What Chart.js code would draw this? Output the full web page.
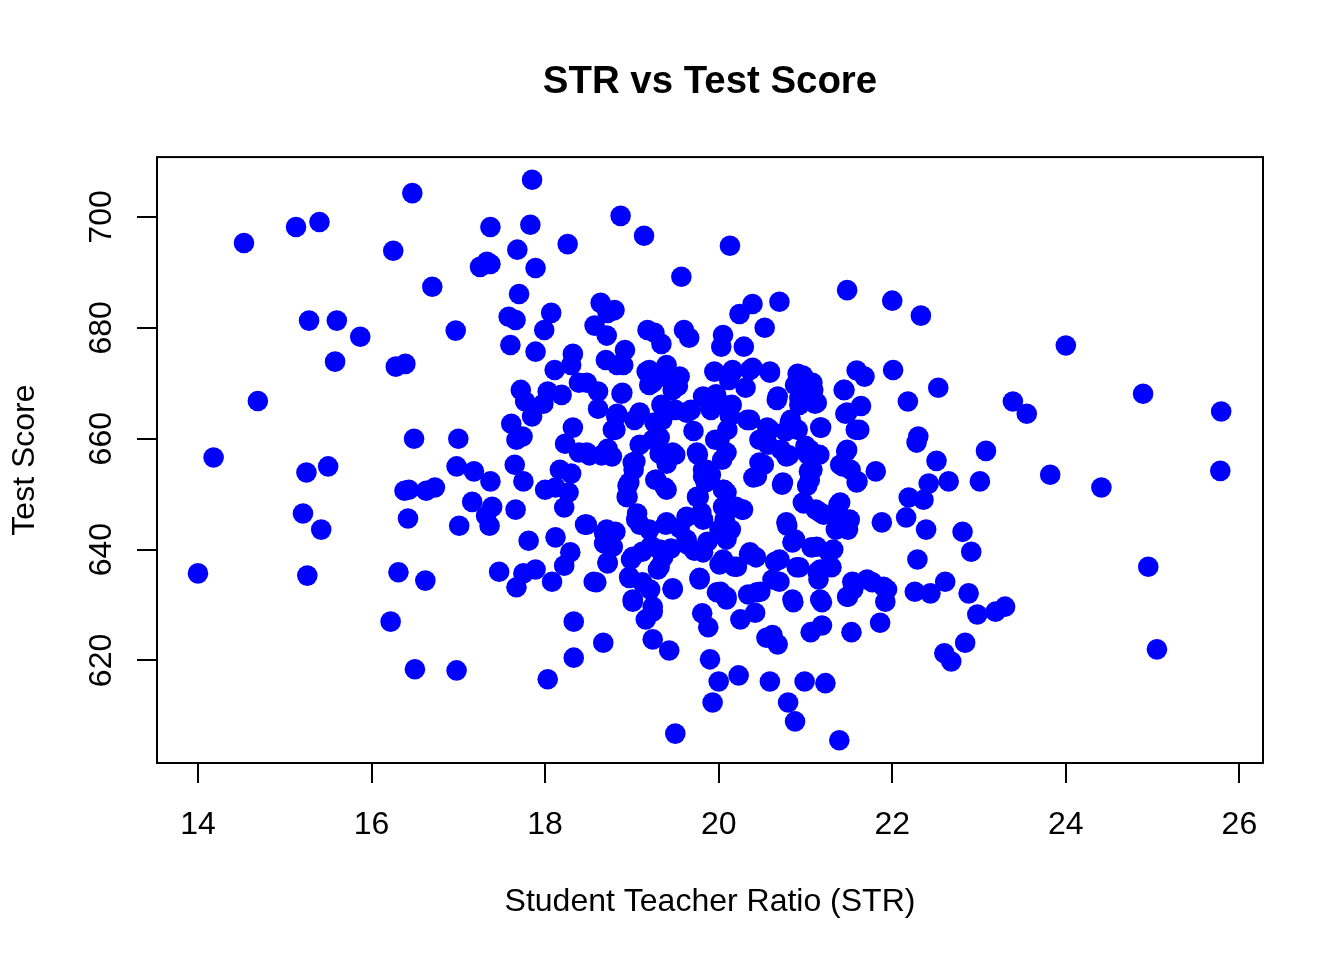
<!DOCTYPE html>
<html>
<head>
<meta charset="utf-8">
<script src="https://cdn.jsdelivr.net/npm/chart.js@4"></script>
<style>
html, body { margin: 0; padding: 0; background: #fff; }
#wrap { width: 1344px; height: 960px; position: relative; }
</style>
</head>
<body>
<div id="wrap"><canvas id="c"></canvas></div>
<script>
// Student teacher ratio (x) and test score (y)
const strX = [
14.0,14.18,14.53,14.69,15.13,15.40,15.21,15.25,15.26,15.28,15.42,15.50,15.60,15.58,15.87,16.25,16.22,16.28,16.39,16.31,
16.38,16.42,16.43,16.47,16.49,16.50,16.62,16.63,16.70,16.73,16.97,16.98,17.00,16.98,17.01,17.16,17.18,17.25,17.33,17.37,
17.37,17.32,17.36,17.37,17.39,17.47,17.58,17.60,17.61,17.65,17.66,17.66,17.68,17.67,17.67,17.70,17.72,17.74,17.77,17.75,
17.75,17.81,17.83,17.85,17.89,17.89,17.89,17.85,17.99,18.00,18.03,17.98,18.03,18.07,18.08,18.11,18.12,18.12,18.17,18.19,
18.22,18.23,18.22,18.26,18.27,18.29,18.30,18.30,18.32,18.32,18.33,18.33,18.39,18.39,18.46,18.51,18.56,18.57,18.61,18.61,
18.64,18.65,18.67,18.68,18.68,18.70,18.71,18.72,18.72,18.72,18.74,18.77,18.80,18.81,18.81,18.83,18.83,18.87,18.88,18.92,
18.90,18.95,18.95,18.97,18.99,19.01,19.02,19.04,19.03,19.06,19.09,19.09,19.12,19.14,19.16,19.17,19.18,19.20,19.21,19.22,
19.24,19.24,19.26,19.26,19.27,19.30,19.32,19.32,19.34,19.34,19.36,19.37,19.38,19.39,19.40,19.41,19.43,19.45,19.47,19.50,
19.50,19.50,19.53,19.55,19.57,19.60,19.64,19.66,19.68,19.71,19.72,19.76,19.77,19.78,19.80,19.81,19.82,19.85,19.87,19.88,
19.88,19.90,19.91,19.91,19.93,19.95,19.96,19.97,20.00,20.01,20.02,20.03,20.04,20.05,20.05,20.06,20.07,20.09,20.10,20.12,
20.13,20.14,20.15,20.16,20.18,20.20,20.23,20.24,20.25,20.27,20.29,20.31,20.33,20.34,20.35,20.36,20.39,20.40,20.42,20.43,
20.47,20.48,20.52,20.53,20.55,20.56,20.57,20.59,20.59,20.62,20.65,20.67,20.68,20.70,20.70,20.72,20.73,20.77,20.79,20.80,
20.81,20.83,20.86,20.88,20.88,20.88,20.91,20.91,20.93,20.93,20.97,20.98,20.99,21.00,21.02,21.03,21.04,21.06,21.07,21.09,
21.11,21.12,21.14,21.15,21.16,21.18,21.19,21.19,21.21,21.23,21.27,21.30,21.35,21.38,21.39,21.40,21.42,21.44,21.46,21.47,
21.48,21.49,21.49,21.51,21.52,21.53,21.54,21.55,21.58,21.59,21.60,21.62,21.64,21.68,21.77,21.81,21.86,21.88,21.90,21.92,
21.94,22.00,22.01,22.16,22.18,22.19,22.26,22.28,22.29,22.30,22.33,22.36,22.39,22.42,22.44,22.51,22.53,22.60,22.61,22.65,
22.68,22.81,22.84,22.88,22.91,22.98,23.01,23.08,23.19,23.30,23.39,23.55,23.82,24.00,24.41,24.89,24.95,25.05,25.79,25.78,
19.20,19.40,19.55,18.48,18.89,19.24,19.47,19.82,20.01,18.82,19.09,19.35,19.63,18.78,19.24,19.47,19.75,20.01,18.48,19.01,
19.86,20.16,20.39,20.59,21.08,20.68,20.93,21.13,21.45,21.48,21.17,20.82,20.59,20.36,20.13,20.09,20.47,20.78,21.05,21.08,
21.48,21.43,18.97,19.28,19.40,19.82,19.75,20.05,18.94,18.48,18.71,19.05,19.20,19.40,19.63,19.82,20.01,18.78,19.01,19.32,
19.63,19.82,20.05,18.72,18.97,19.32,19.12,18.59,19.47,19.78,19.98,19.01,19.24,20.44,20.74,21.05,21.59,20.09,20.28,20.97,
21.17,21.40,21.48,20.78,20.85,21.13,21.32,20.09,20.36,20.70,20.90,21.17,21.28,20.05,20.21,20.62,20.09,20.44,20.85,21.17,
21.55,21.48,21.71
];
const testScore = [
635.7,656.6,695.3,666.8,698.2,699.1,646.5,653.9,635.3,681.3,643.6,655.0,681.3,673.9,678.4,693.9,627.0,673.0,673.5,635.9,
650.6,645.6,650.8,704.3,660.0,618.4,634.4,650.6,687.4,651.2,679.5,618.2,660.0,655.0,644.3,648.6,654.1,691.0,691.9,698.2,
691.5,646.1,644.3,652.3,647.7,636.0,682.0,676.9,662.7,655.3,681.4,647.2,694.1,633.2,659.8,686.1,668.8,660.4,666.7,635.7,
652.3,641.6,698.6,706.7,690.8,675.7,636.4,664.0,679.6,650.8,616.6,666.3,668.5,682.7,634.2,672.4,642.2,651.2,654.4,667.9,
637.1,659.1,647.6,695.1,650.3,639.5,653.7,673.3,675.3,662.0,627.0,620.5,670.1,657.5,644.5,657.0,634.2,680.4,665.4,668.5,
684.5,657.0,623.2,643.0,641.1,674.2,678.6,658.2,637.5,682.7,641.8,656.8,683.2,661.6,643.2,664.5,673.3,700.2,668.1,676.0,
673.3,649.5,651.5,634.9,638.2,630.6,654.4,655.9,663.4,646.5,658.9,644.5,639.6,696.6,627.4,672.1,679.6,669.7,632.8,640.7,
628.8,623.8,679.1,662.9,652.6,636.4,660.2,657.3,677.1,666.1,638.6,672.4,651.2,644.5,655.5,671.0,621.8,640.2,633.0,606.8,
657.1,665.2,669.5,643.9,689.2,679.6,640.9,678.2,665.2,661.4,639.8,657.1,649.5,634.9,646.7,628.5,654.4,652.1,641.4,667.0,
626.0,620.2,665.2,653.5,612.4,672.1,659.8,668.0,616.2,637.3,632.4,676.6,656.2,647.7,678.7,650.8,645.4,631.0,661.6,670.6,
694.8,643.6,666.1,672.1,636.9,647.7,617.3,682.5,627.4,647.2,676.6,669.2,663.4,631.9,639.1,672.4,684.3,653.0,628.6,638.6,
659.8,632.4,655.3,680.0,624.1,662.0,658.9,616.2,672.1,624.6,637.8,667.0,622.9,684.7,634.2,658.0,651.7,661.3,644.3,612.4,
657.0,663.4,630.5,641.8,669.7,609.0,671.7,661.6,636.8,666.1,671.4,648.3,616.2,658.7,651.5,657.1,654.1,625.1,640.4,668.8,
666.3,647.2,636.0,634.6,657.1,662.0,630.5,626.3,646.3,615.9,639.5,636.8,643.6,648.1,605.6,655.3,645.4,668.8,664.5,657.7,
686.8,631.5,643.6,645.4,654.4,625.1,634.2,632.8,661.6,672.3,652.3,661.6,665.9,671.2,634.1,654.1,626.8,644.9,633.3,630.6,
632.8,684.9,672.4,645.8,666.7,649.4,632.4,659.3,638.2,660.4,682.2,649.0,643.6,651.9,632.1,656.0,669.2,621.3,634.2,652.3,
619.8,643.2,623.2,632.1,639.6,628.3,652.3,657.8,628.8,629.7,666.7,664.5,653.5,676.8,651.2,668.1,636.9,622.0,664.9,654.2,
672.4,673.3,671.2,670.1,668.3,670.1,668.8,667.6,666.5,664.0,664.7,663.4,664.7,661.6,659.8,657.5,657.5,659.8,657.5,655.7,
654.4,672.4,672.8,671.9,670.1,667.6,667.4,666.5,668.8,664.7,662.0,662.9,661.6,663.4,664.0,657.5,655.7,656.8,658.0,654.4,
658.0,655.0,652.1,652.6,650.8,653.2,649.5,650.8,649.5,644.5,643.6,645.4,643.6,644.9,645.9,645.4,643.6,640.5,638.7,640.0,
641.8,639.5,638.2,637.7,635.1,636.9,634.1,634.1,632.8,634.6,632.3,631.0,629.7,653.2,652.1,652.6,652.1,650.3,647.2,648.5,
646.7,648.5,644.9,644.9,641.3,640.5,640.0,641.8,639.5,638.2,636.8,636.4,636.9,637.7,636.9,634.6,631.5,632.3,631.0,631.0,
634.1,631.5,634.6
];
const xTicks = [14, 16, 18, 20, 22, 24, 26];
const yTicks = [620, 640, 660, 680, 700];
const chartTitle = 'STR vs Test Score';
const xTitle = 'Student Teacher Ratio (STR)';
const yTitle = 'Test Score';

const points = strX.map((x, i) => ({ x: x, y: testScore[i] }));

const FONT = "'Liberation Sans', Arial, Helvetica, sans-serif";

const boxPlugin = {
  id: 'box',
  afterDraw(chart) {
    const { ctx, chartArea: a } = chart;
    ctx.save();
    ctx.strokeStyle = '#000';
    ctx.lineWidth = 2;
    ctx.strokeRect(a.left, a.top, a.right - a.left, a.bottom - a.top);
    ctx.restore();
  }
};

new Chart(document.getElementById('c'), {
  type: 'scatter',
  data: {
    datasets: [{
      data: points,
      backgroundColor: '#0000FF',
      borderColor: '#0000FF',
      borderWidth: 0,
      pointRadius: 10.3,
      pointHoverRadius: 10.3
    }]
  },
  options: {
    responsive: true,
    maintainAspectRatio: false,
    devicePixelRatio: 1,
    animation: false,
    events: [],
    layout: { padding: { left: 0, right: 81, top: 0, bottom: 0 } },
    plugins: {
      legend: { display: false },
      tooltip: { enabled: false },
      title: {
        display: true,
        text: chartTitle,
        fullSize: false,
        color: '#000',
        font: { family: FONT, size: 38.4, weight: 'bold', lineHeight: 1.2 },
        padding: { top: 59, bottom: 52 }
      }
    },
    scales: {
      x: {
        type: 'linear',
        min: 13.528,
        max: 26.272,
        afterFit(s) { s.height = 197; },
        afterBuildTicks(s) { s.ticks = xTicks.map(v => ({ value: v })); },
        grid: { display: true, drawOnChartArea: false, drawTicks: true, tickLength: 20, color: '#000', lineWidth: 2 },
        border: { display: false },
        ticks: { color: '#000', padding: 23, maxRotation: 0, minRotation: 0, font: { family: FONT, size: 32 } },
        title: { display: true, text: xTitle, color: '#000', font: { family: FONT, size: 32, lineHeight: 1.2 }, padding: { top: 0, bottom: 39 } }
      },
      y: {
        type: 'linear',
        min: 601.5,
        max: 710.8,
        afterFit(s) { s.width = 157; },
        afterBuildTicks(s) { s.ticks = yTicks.map(v => ({ value: v })); },
        grid: { display: true, drawOnChartArea: false, drawTicks: true, tickLength: 20, color: '#000', lineWidth: 2 },
        border: { display: false },
        ticks: { color: '#000', padding: 8, minRotation: 90, maxRotation: 90, crossAlign: 'center', font: { family: FONT, size: 32 } },
        title: { display: true, text: yTitle, color: '#000', font: { family: FONT, size: 32, lineHeight: 1.2 }, padding: { top: 6, bottom: 0 } }
      }
    }
  },
  plugins: [boxPlugin]
});
</script>
</body>
</html>
